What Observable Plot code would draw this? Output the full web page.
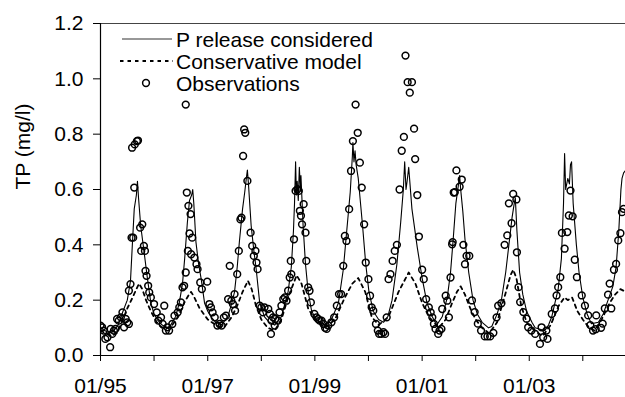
<!DOCTYPE html>
<html>
<head>
<meta charset="utf-8">
<script src="https://cdn.jsdelivr.net/npm/d3@7"></script>
<script src="https://cdn.jsdelivr.net/npm/@observablehq/plot@0.6"></script>
<style>
  html, body { margin: 0; padding: 0; background: #fff; }
</style>
</head>
<body>
<div id="chart"></div>
<script>
// ---- Data (decimal year, TP mg/l) ----
const seriesNames = ["P release considered", "Conservative model", "Observations"];
const yLabel = "TP (mg/l)";
const yTicks = [0, 0.2, 0.4, 0.6, 0.8, 1.0, 1.2];
const xTickYears = [1995, 1996, 1997, 1998, 1999, 2000, 2001, 2002, 2003, 2004];
const xLabelYears = [1995, 1997, 1999, 2001, 2003];
const xDomain = [1995.0, 2004.795];

const pRelease = [
  [1995.00,0.10],[1995.08,0.09],[1995.17,0.08],[1995.25,0.09],[1995.33,0.11],[1995.42,0.16],
  [1995.50,0.20],[1995.56,0.27],[1995.60,0.42],[1995.63,0.53],[1995.67,0.58],[1995.69,0.63],
  [1995.71,0.57],[1995.75,0.47],[1995.81,0.38],[1995.875,0.28],[1995.94,0.19],[1996.00,0.15],
  [1996.06,0.13],[1996.15,0.11],[1996.25,0.10],[1996.31,0.11],[1996.40,0.14],[1996.47,0.19],
  [1996.53,0.26],[1996.57,0.35],[1996.62,0.48],[1996.66,0.56],[1996.70,0.58],[1996.72,0.60],
  [1996.74,0.55],[1996.78,0.41],[1996.83,0.33],[1996.875,0.28],[1996.94,0.19],[1997.00,0.16],
  [1997.06,0.14],[1997.15,0.12],[1997.25,0.11],[1997.375,0.14],[1997.45,0.19],[1997.50,0.23],
  [1997.55,0.32],[1997.59,0.41],[1997.65,0.53],[1997.69,0.59],[1997.72,0.64],[1997.74,0.67],
  [1997.76,0.62],[1997.81,0.47],[1997.86,0.38],[1997.90,0.32],[1997.97,0.19],[1998.06,0.14],
  [1998.15,0.12],[1998.25,0.11],[1998.375,0.14],[1998.50,0.23],[1998.56,0.32],[1998.60,0.45],
  [1998.62,0.55],[1998.64,0.70],[1998.655,0.58],[1998.67,0.63],[1998.69,0.56],[1998.71,0.68],
  [1998.73,0.60],[1998.74,0.65],[1998.78,0.47],[1998.825,0.33],[1998.875,0.23],[1998.94,0.16],
  [1999.03,0.13],[1999.19,0.11],[1999.31,0.13],[1999.44,0.19],[1999.53,0.31],[1999.59,0.44],
  [1999.66,0.59],[1999.70,0.72],[1999.71,0.77],[1999.73,0.70],[1999.75,0.74],[1999.77,0.69],
  [1999.81,0.64],[1999.89,0.47],[1999.95,0.33],[2000.01,0.23],[2000.09,0.16],[2000.19,0.13],
  [2000.28,0.12],[2000.36,0.14],[2000.44,0.20],[2000.53,0.33],[2000.60,0.48],[2000.65,0.60],
  [2000.675,0.70],[2000.70,0.60],[2000.72,0.63],[2000.75,0.68],[2000.81,0.53],[2000.91,0.39],
  [2001.00,0.28],[2001.09,0.19],[2001.19,0.14],[2001.27,0.11],[2001.375,0.14],[2001.47,0.21],
  [2001.53,0.30],[2001.58,0.42],[2001.63,0.55],[2001.68,0.62],[2001.70,0.65],[2001.72,0.60],
  [2001.76,0.52],[2001.80,0.42],[2001.87,0.30],[2001.95,0.20],[2002.03,0.15],[2002.12,0.12],
  [2002.24,0.10],[2002.30,0.105],[2002.40,0.15],[2002.48,0.20],[2002.56,0.30],[2002.62,0.40],
  [2002.68,0.50],[2002.72,0.55],[2002.74,0.57],[2002.77,0.45],[2002.82,0.30],[2002.88,0.22],
  [2002.95,0.16],[2003.05,0.12],[2003.11,0.10],[2003.20,0.095],[2003.29,0.09],[2003.36,0.11],
  [2003.42,0.14],[2003.48,0.19],[2003.54,0.24],[2003.60,0.35],[2003.64,0.55],[2003.66,0.73],
  [2003.68,0.60],[2003.72,0.64],[2003.75,0.62],[2003.77,0.69],[2003.79,0.70],[2003.82,0.55],
  [2003.88,0.40],[2003.93,0.30],[2004.00,0.21],[2004.08,0.15],[2004.16,0.115],[2004.29,0.12],
  [2004.38,0.15],[2004.47,0.20],[2004.56,0.25],[2004.62,0.32],[2004.67,0.45],[2004.71,0.60],
  [2004.73,0.64],[2004.76,0.66],[2004.80,0.67]
];

const conservative = [
  [1995.00,0.09],[1995.10,0.08],[1995.20,0.07],[1995.30,0.08],[1995.40,0.12],[1995.50,0.17],
  [1995.60,0.21],[1995.67,0.24],[1995.72,0.26],[1995.78,0.24],[1995.85,0.20],[1995.94,0.16],
  [1996.05,0.12],[1996.15,0.10],[1996.30,0.10],[1996.45,0.14],[1996.56,0.19],[1996.65,0.22],
  [1996.69,0.23],[1996.75,0.21],[1996.85,0.17],[1997.00,0.13],[1997.15,0.11],[1997.30,0.10],
  [1997.45,0.14],[1997.55,0.18],[1997.65,0.23],[1997.75,0.27],[1997.82,0.24],[1997.90,0.18],
  [1998.00,0.13],[1998.12,0.10],[1998.25,0.09],[1998.375,0.13],[1998.50,0.21],[1998.58,0.25],
  [1998.66,0.29],[1998.75,0.26],[1998.875,0.17],[1999.00,0.13],[1999.19,0.10],[1999.375,0.13],
  [1999.56,0.21],[1999.70,0.26],[1999.81,0.28],[1999.94,0.23],[2000.06,0.14],[2000.19,0.11],
  [2000.375,0.14],[2000.56,0.23],[2000.75,0.30],[2000.875,0.26],[2001.00,0.19],[2001.125,0.14],
  [2001.31,0.10],[2001.44,0.13],[2001.56,0.19],[2001.65,0.23],[2001.72,0.25],[2001.80,0.22],
  [2001.90,0.17],[2002.00,0.13],[2002.12,0.10],[2002.25,0.08],[2002.40,0.12],[2002.55,0.22],
  [2002.65,0.29],[2002.70,0.31],[2002.76,0.28],[2002.85,0.18],[2002.95,0.12],[2003.10,0.09],
  [2003.25,0.07],[2003.40,0.11],[2003.55,0.18],[2003.66,0.21],[2003.72,0.20],[2003.80,0.21],
  [2003.90,0.16],[2004.00,0.13],[2004.12,0.10],[2004.22,0.09],[2004.35,0.13],[2004.50,0.19],
  [2004.60,0.22],[2004.70,0.24],[2004.80,0.23]
];

const observations = [
  [1995.00,0.108],[1995.06,0.090],[1995.13,0.066],[1995.19,0.096],[1995.18,0.030],[1995.25,0.090],
  [1995.09,0.060],[1995.22,0.078],[1995.03,0.102],[1995.28,0.096],[1995.31,0.132],[1995.34,0.126],
  [1995.38,0.138],[1995.41,0.156],[1995.44,0.102],[1995.47,0.132],[1995.50,0.120],[1995.53,0.114],
  [1995.56,0.258],[1995.53,0.234],[1995.58,0.426],[1995.61,0.426],[1995.63,0.607],[1995.59,0.751],
  [1995.64,0.763],[1995.68,0.775],[1995.70,0.777],[1995.74,0.462],[1995.78,0.474],[1995.76,0.378],
  [1995.81,0.396],[1995.83,0.378],[1995.84,0.306],[1995.86,0.288],[1995.89,0.252],[1995.91,0.228],
  [1995.94,0.210],[1996.00,0.186],[1996.05,0.156],[1996.08,0.126],[1996.13,0.138],[1996.16,0.114],
  [1996.19,0.180],[1996.22,0.090],[1996.25,0.102],[1996.28,0.090],[1996.34,0.114],[1996.38,0.144],
  [1996.44,0.156],[1996.47,0.174],[1996.50,0.192],[1996.53,0.246],[1996.56,0.252],[1996.59,0.300],
  [1996.61,0.589],[1996.64,0.541],[1996.68,0.511],[1996.66,0.441],[1996.71,0.426],[1996.63,0.378],
  [1996.69,0.366],[1996.75,0.354],[1996.79,0.330],[1996.81,0.312],[1996.86,0.264],[1996.89,0.240],
  [1996.99,0.267],[1997.03,0.186],[1997.06,0.174],[1997.09,0.156],[1997.13,0.138],[1997.18,0.108],
  [1997.22,0.114],[1997.26,0.108],[1997.30,0.138],[1997.34,0.144],[1997.38,0.204],[1997.41,0.324],
  [1997.44,0.198],[1997.47,0.186],[1997.50,0.222],[1997.51,0.162],[1997.55,0.294],[1997.58,0.378],
  [1997.61,0.492],[1997.63,0.498],[1997.66,0.721],[1997.68,0.817],[1997.70,0.805],[1997.74,0.631],
  [1997.80,0.444],[1997.83,0.396],[1997.86,0.360],[1997.89,0.378],[1997.91,0.336],[1997.93,0.312],
  [1997.97,0.180],[1998.00,0.174],[1998.03,0.156],[1998.06,0.174],[1998.13,0.168],[1998.16,0.150],
  [1998.18,0.078],[1998.19,0.126],[1998.22,0.138],[1998.26,0.132],[1996.59,0.907],
  [1998.25,0.108],[1998.31,0.126],[1998.34,0.156],[1998.375,0.180],[1998.41,0.204],[1998.44,0.210],
  [1998.47,0.198],[1998.50,0.234],[1998.53,0.282],[1998.56,0.294],[1998.55,0.342],[1998.61,0.420],
  [1998.64,0.595],[1998.675,0.601],[1998.70,0.595],[1998.72,0.523],[1998.74,0.505],[1998.76,0.474],
  [1998.79,0.547],[1998.825,0.444],[1998.84,0.342],[1998.875,0.246],[1998.90,0.234],[1998.925,0.192],
  [1998.99,0.150],[1999.03,0.138],[1999.06,0.132],[1999.09,0.126],[1999.125,0.126],[1999.16,0.114],
  [1999.19,0.100],[1999.22,0.096],[1999.25,0.108],[1999.31,0.120],[1999.36,0.138],[1999.41,0.180],
  [1999.45,0.222],[1999.49,0.222],[1999.53,0.324],[1999.56,0.432],[1999.59,0.414],[1999.64,0.529],
  [1999.675,0.667],[1999.71,0.775],[1999.76,0.907],[1999.80,0.805],[1999.84,0.697],[1999.875,0.607],
  [1999.92,0.474],[1999.95,0.336],[2000.00,0.276],[2000.03,0.216],[2000.06,0.174],[2000.09,0.162],
  [2000.14,0.114],[2000.175,0.090],[2000.20,0.078],[2000.24,0.078],[2000.28,0.084],[2000.31,0.078],
  [2000.34,0.138],[2000.375,0.276],[2000.41,0.294],[2000.45,0.342],[2000.49,0.378],[2000.53,0.400],
  [2000.58,0.600],[2000.62,0.740],[2000.66,0.790],[2000.69,1.084],[2000.73,0.988],[2000.81,0.988],
  [2000.77,0.950],[2000.85,0.820],[2000.87,0.710],[2000.91,0.580],[2000.94,0.430],
  [2001.00,0.310],[2001.03,0.276],[2001.075,0.204],[2001.125,0.174],[2001.16,0.156],[2001.19,0.138],
  [2001.22,0.114],[2001.25,0.096],[2001.30,0.078],[2001.325,0.090],[2001.36,0.096],[2001.375,0.168],
  [2001.44,0.216],[2001.47,0.198],[2001.50,0.138],[2001.53,0.282],[2001.56,0.402],[2001.59,0.589],
  [2001.64,0.669],[2001.74,0.636],[2001.61,0.590],[2001.70,0.610],[2001.57,0.410],[2001.77,0.400],
  [2001.83,0.360],[2001.88,0.360],[2001.80,0.330],
  [2001.93,0.199],[2001.98,0.157],[2002.04,0.115],[2002.10,0.090],[2002.17,0.069],[2002.22,0.069],
  [2002.27,0.069],[2002.33,0.082],[2002.39,0.138],[2002.42,0.180],[2002.48,0.189],
  [2002.54,0.400],[2002.59,0.434],[2002.62,0.550],[2002.67,0.478],[2002.70,0.584],[2002.76,0.564],
  [2002.77,0.373],
  [2002.80,0.247],[2002.83,0.193],[2002.89,0.157],[2002.95,0.133],[2002.98,0.102],[2003.04,0.090],
  [2003.11,0.078],[2003.20,0.042],[2003.26,0.066],[2003.34,0.060],[2003.23,0.102],[2003.32,0.090],
  [2003.42,0.150],[2003.48,0.170],[2003.51,0.217],[2003.54,0.247],
  [2003.58,0.283],[2003.61,0.443],[2003.66,0.386],[2003.71,0.446],[2003.74,0.506],[2003.77,0.596],
  [2003.81,0.503],[2003.85,0.346],[2003.89,0.283],
  [2003.98,0.217],[2004.04,0.180],[2004.10,0.145],[2004.14,0.110],[2004.19,0.090],[2004.24,0.095],
  [2004.34,0.100],[2004.25,0.145],[2004.37,0.115],[2004.41,0.170],[2004.47,0.220],[2004.53,0.170],
  [2004.50,0.260],[2004.58,0.310],[2004.62,0.331],[2004.66,0.416],[2004.70,0.442],[2004.73,0.518],
  [2004.76,0.530]
];

// ---- helpers ----
function toDate(t) {
  const y = Math.floor(t);
  const a = Date.UTC(y, 0, 1), b = Date.UTC(y + 1, 0, 1);
  return new Date(a + (t - y) * (b - a));
}
const asRows = arr => arr.map(([t, v]) => ({date: toDate(t), value: v}));

const font = "'Liberation Sans', Arial, Helvetica, sans-serif";
const dashPattern = "3.5,4";

function legendMark(index, scales, values, dims) {
  const g = d3.create("svg:g")
    .attr("font-family", font)
    .attr("font-size", 21)
    .attr("text-anchor", "start")
    .attr("fill", "black");
  const x0 = dims.marginLeft, y0 = dims.marginTop;
  const rows = [16, 38, 60];
  g.append("line").attr("x1", x0 + 22).attr("x2", x0 + 72)
    .attr("y1", y0 + rows[0]).attr("y2", y0 + rows[0])
    .attr("stroke", "#333").attr("stroke-width", 1.1);
  g.append("line").attr("x1", x0 + 20).attr("x2", x0 + 73)
    .attr("y1", y0 + rows[1]).attr("y2", y0 + rows[1])
    .attr("stroke", "black").attr("stroke-width", 1.8).attr("stroke-dasharray", dashPattern);
  g.append("circle").attr("cx", x0 + 46).attr("cy", y0 + rows[2]).attr("r", 3.4)
    .attr("fill", "none").attr("stroke", "black").attr("stroke-width", 1.5);
  seriesNames.forEach((name, i) => {
    g.append("text").attr("x", x0 + 76).attr("y", y0 + rows[i])
      .attr("dy", "0.36em").attr("text-anchor", "start").text(name);
  });
  return g.node();
}

const chart = Plot.plot({
  width: 625,
  height: 397,
  marginLeft: 100,
  marginRight: 0,
  marginTop: 23,
  marginBottom: 42,
  style: {fontFamily: font, fontSize: "21px", background: "white", color: "black"},
  x: {type: "utc", domain: xDomain.map(toDate)},
  y: {domain: [0, 1.2]},
  marks: [
    Plot.axisY({
      ticks: yTicks, tickFormat: d => d.toFixed(1), tickSize: 7, tickPadding: 10,
      label: null, fontSize: 21
    }),
    Plot.axisX({
      ticks: xTickYears.map(y => toDate(y)),
      tickFormat: d => xLabelYears.includes(d.getUTCFullYear())
        ? "01/" + String(d.getUTCFullYear()).slice(2) : "",
      tickSize: 6, tickPadding: 17, label: null, fontSize: 21
    }),
    Plot.text([yLabel], {
      frameAnchor: "left", rotate: -90, dx: -77, fontSize: 21, fill: "black"
    }),
    Plot.ruleY([0], {stroke: "black", strokeWidth: 1.2}),
    Plot.ruleY([1.2], {stroke: "#444", strokeWidth: 1}),
    Plot.ruleX([toDate(xDomain[0])], {stroke: "black", strokeWidth: 1.2}),
    Plot.line(asRows(conservative), {
      x: "date", y: "value", stroke: "black", strokeWidth: 1.8,
      strokeDasharray: dashPattern, clip: true
    }),
    Plot.line(asRows(pRelease), {
      x: "date", y: "value", stroke: "black", strokeWidth: 1.1, clip: true
    }),
    Plot.dot(asRows(observations), {
      x: "date", y: "value", r: 3.4, stroke: "black", strokeWidth: 1.5, fill: "none", clip: true
    }),
    legendMark
  ]
});

document.getElementById("chart").appendChild(chart);
</script>
</body>
</html>
